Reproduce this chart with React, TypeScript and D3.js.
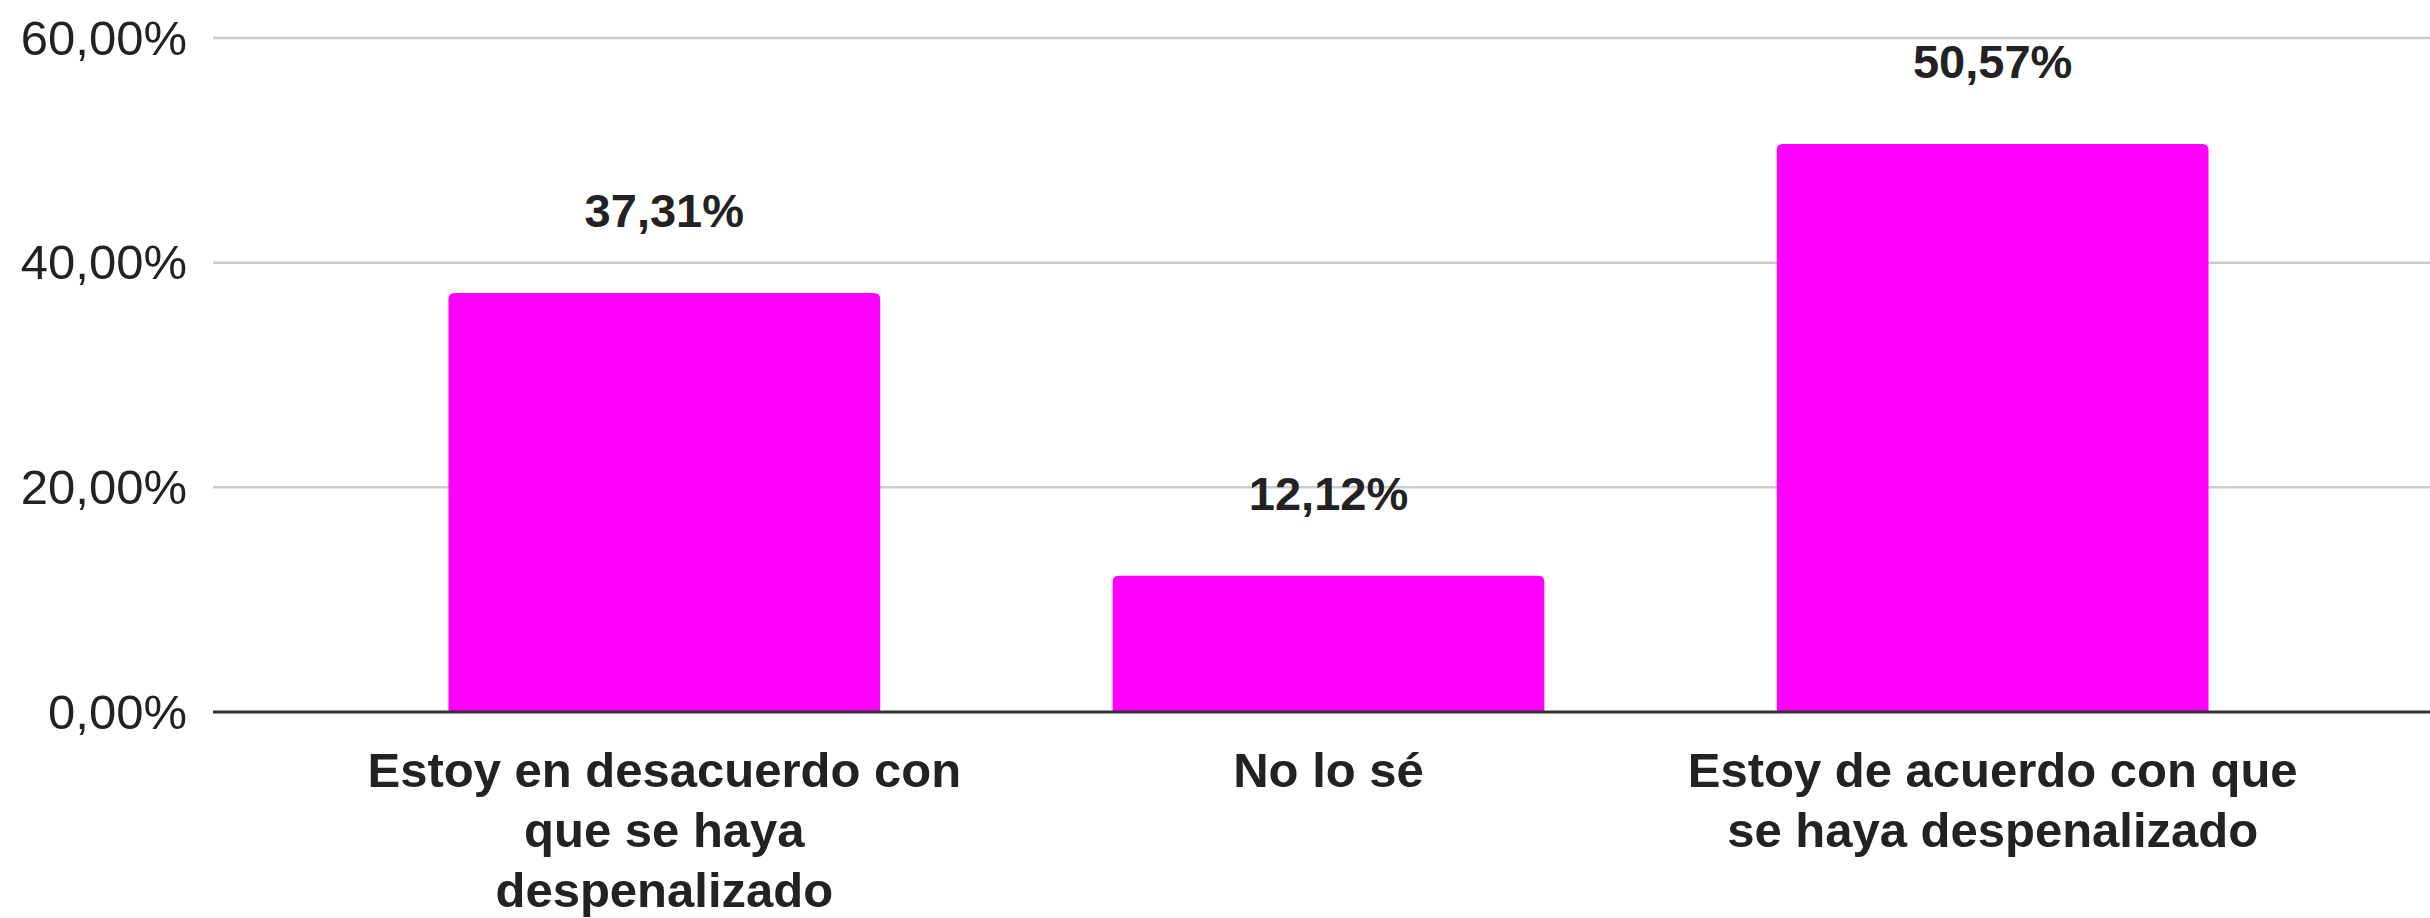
import React from "react";
import * as d3 from "d3";

const categories = [
  "Estoy en desacuerdo con que se haya despenalizado",
  "No lo sé",
  "Estoy de acuerdo con que se haya despenalizado",
];
const categoryLines = [
  ["Estoy en desacuerdo con", "que se haya", "despenalizado"],
  ["No lo sé"],
  ["Estoy de acuerdo con que", "se haya despenalizado"],
];
const values = [0.3731, 0.1212, 0.5057];
const yTicks = [0, 0.2, 0.4, 0.6];

const W = 2430;
const H = 918;
const FONT = "'Liberation Sans', Arial, Helvetica, sans-serif";

const fmtPct = (v: number) => (v * 100).toFixed(2).replace(".", ",") + "%";

function topRoundedBar(x: number, y: number, w: number, h: number, r: number) {
  const rr = Math.min(r, w / 2, h);
  return `M${x},${y + h}V${y + rr}Q${x},${y} ${x + rr},${y}H${x + w - rr}Q${x + w},${y} ${x + w},${y + rr}V${y + h}Z`;
}

export default function App() {
  const x = d3.scaleBand<string>().domain(categories).range([216, 2441]).padding(0.35);
  const y = d3.scaleLinear().domain([0, 0.6]).range([712, 38]);
  const gridLeft = 213;
  const gridRight = W;

  return (
    <svg
      width={W}
      height={H}
      viewBox={`0 0 ${W} ${H}`}
      style={{ position: "absolute", left: 0, top: 0, background: "#fff" }}
    >
      <rect x={0} y={0} width={W} height={H} fill="#fff" />
      {yTicks.map((t) => (
        <g key={t}>
          {t > 0 && (
            <line x1={gridLeft} x2={gridRight} y1={y(t)} y2={y(t)} stroke="#cccccc" strokeWidth={2.5} />
          )}
          <text
            x={187}
            y={y(t)}
            dy="0.34em"
            textAnchor="end"
            fontFamily={FONT}
            fontSize={49}
            fill="#222"
          >
            {fmtPct(t)}
          </text>
        </g>
      ))}
      {categories.map((c, i) => {
        const bx = x(c)!;
        const bw = x.bandwidth();
        const top = y(values[i]);
        return (
          <g key={c}>
            <path d={topRoundedBar(bx, top, bw, y(0) - top, 6)} fill="#ff00ff" />
            <text
              x={bx + bw / 2}
              y={top - 66}
              textAnchor="middle"
              fontFamily={FONT}
              fontWeight="bold"
              fontSize={47}
              fill="#222"
            >
              {fmtPct(values[i])}
            </text>
            <text
              x={bx + bw / 2}
              y={787}
              textAnchor="middle"
              fontFamily={FONT}
              fontWeight="bold"
              fontSize={49}
              fill="#222"
            >
              {categoryLines[i].map((ln, j) => (
                <tspan key={j} x={bx + bw / 2} y={787 + j * 60}>
                  {ln}
                </tspan>
              ))}
            </text>
          </g>
        );
      })}
      <line x1={gridLeft} x2={gridRight} y1={y(0)} y2={y(0)} stroke="#333" strokeWidth={3} />
    </svg>
  );
}
